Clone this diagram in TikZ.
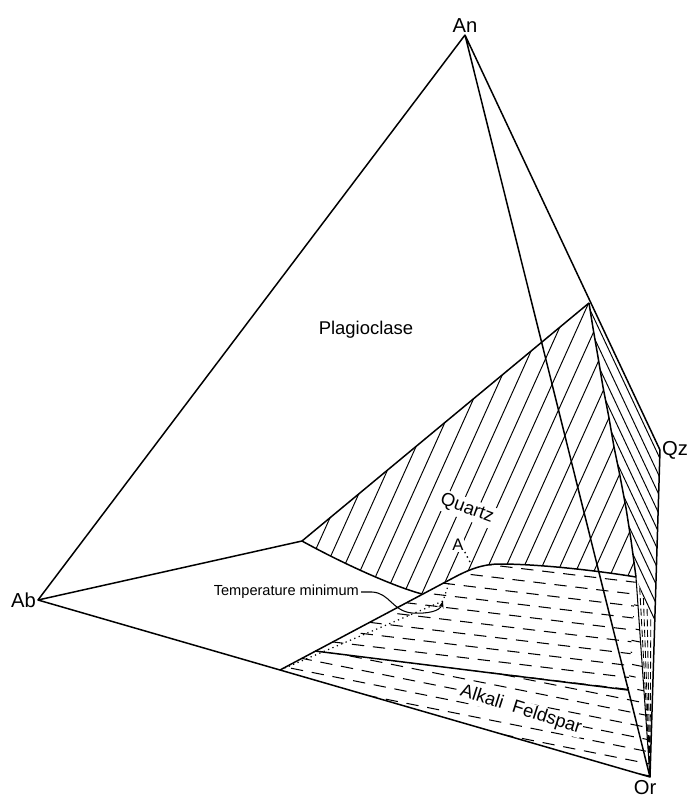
\documentclass[tikz,border=0pt]{standalone}
\usepackage{fontspec}
\setmainfont{Liberation Sans}
\usetikzlibrary{arrows.meta}

\begin{document}
\begin{tikzpicture}[x=0.02cm,y=-0.02cm,
  edge/.style={line width=0.85pt,line join=round},
  hatch/.style={line width=0.55pt},
  frow/.style={line width=0.6pt,dash pattern=on 7pt off 5pt},
  vrow/.style={line width=0.5pt,dash pattern=on 4pt off 2pt},
  corner/.style={font=\fontsize{11.5}{13}\selectfont,inner sep=1pt},
  field/.style={font=\fontsize{10.5}{12}\selectfont,inner sep=1.5pt,fill=white}]
\useasboundingbox (0,0) rectangle (688,798);
\coordinate (An) at (465,35);
\coordinate (Ab) at (38,600);
\coordinate (Qz) at (660,450);
\coordinate (Or) at (650,777);
\coordinate (J) at (302,541);
\coordinate (T) at (589,303);
\coordinate (C) at (636,577);
\coordinate (M) at (422,594);
\coordinate (B) at (453,578);
\coordinate (K) at (280,670);
\coordinate (L) at (315,651);
\coordinate (D) at (628,690);
\coordinate (E) at (654.5,630);
\coordinate (P) at (443,601);

\begin{scope}
\clip (J) -- (T) -- (593,328) -- (598,357) -- (603,387) -- (609,418) -- (614,447) -- (620,476) -- (626,508) -- (631,540) -- (C)
  .. controls (600,571) and (540,564) .. (500,564) .. controls (482,564) and (468,570) .. (B) -- (M)
  .. controls (392,586) and (340,562) .. (J) -- cycle;
\foreach \h in {284,302,...,700} \draw[hatch] (\h+99,280) -- (\h-54,620);
\end{scope}

\begin{scope}
\clip (T) -- (Qz) -- (E) -- (C) -- (631,540) -- (626,508) -- (620,476) -- (614,447) -- (609,418) -- (603,387) -- (598,357) -- (593,328) -- cycle;
\foreach \h in {566,575,...,660} \draw[hatch] (\h-80,280) -- (\h+94,650);
\end{scope}

\begin{scope}
\clip (K) -- (B) .. controls (468,570) and (482,564) .. (500,564) .. controls (540,564) and (600,571) .. (C) -- (D) -- (L) -- cycle;
\foreach \r/\ph in {560/0,572/5,584/9,596/2,608/7,620/11,632/3,644/8,656/1,668/6,680/10,692/4}
  \draw[frow,dash phase=\ph pt] (270,\r-21.6) -- (650,\r+24);
\end{scope}

\begin{scope}
\clip (K) -- (L) -- (D) -- (C) -- (Or) -- cycle;
\foreach \r/\ph in {544/3,556/8,568/1,580/6,592/10,604/2,616/7,628/0,640/5,652/9,664/3,676/8,688/1,700/6,712/11,724/4,736/9}
  \draw[frow,dash phase=\ph pt] (260,\r-38) -- (660,\r+42);
\end{scope}

\foreach \x/\y in {639.7/587.6,643.4/598.2,647.1/608.8,650.8/619.4}
  \draw[vrow] (\x,\y) -- (Or);

\draw[edge] (An) -- (Ab) -- (Or) -- (Qz) -- (An) -- (Or);
\draw[edge] (Ab) -- (J) -- (T);
\draw[edge] (T) -- (593,328) -- (598,357) -- (603,387) -- (609,418) -- (614,447) -- (620,476) -- (626,508) -- (631,540) -- (C);
\draw[edge] (J) .. controls (340,562) and (392,586) .. (M);
\draw[edge] (K) -- (B) .. controls (468,570) and (482,564) .. (500,564) .. controls (540,564) and (600,571) .. (C);
\draw[edge] (L) -- (D);
\draw[line width=0.6pt] (C) -- (Or);
\draw[dotted,line width=0.7pt] (K) -- (P) -- (450,580);

\node[corner,above] (an) at (An) {An};
\node[corner,left] (ab) at (Ab) {Ab};
\node[corner,right] (qz) at (Qz) {Qz};
\node[corner] (or) at (645,788) {Or};
\node[field] (plag) at (366,330) {Plagioclase};
\node[field,rotate=-20] (qtz) at (467,509) {Quartz};
\node[field,rotate=-17.7,inner sep=0.5pt] (afs) at (521,710) {Alkali\ \ Feldspar};
\node[font=\fontsize{8.3}{10}\selectfont,anchor=east,inner sep=1pt] (tmin) at (361,592) {Temperature minimum};
\node[font=\fontsize{9.5}{11}\selectfont,inner sep=0.5pt,fill=white] (a) at (458,545) {A};

\draw[line width=0.6pt,-{Stealth[length=4pt,width=3pt]}] (tmin.east) -- (372,592) .. controls (390,593) and (392,611) .. (412,613) .. controls (428,614) and (440,611) .. (P);
\draw[dotted,line width=0.8pt] (a.south east) -- (471,564);
\end{tikzpicture}
\end{document}
